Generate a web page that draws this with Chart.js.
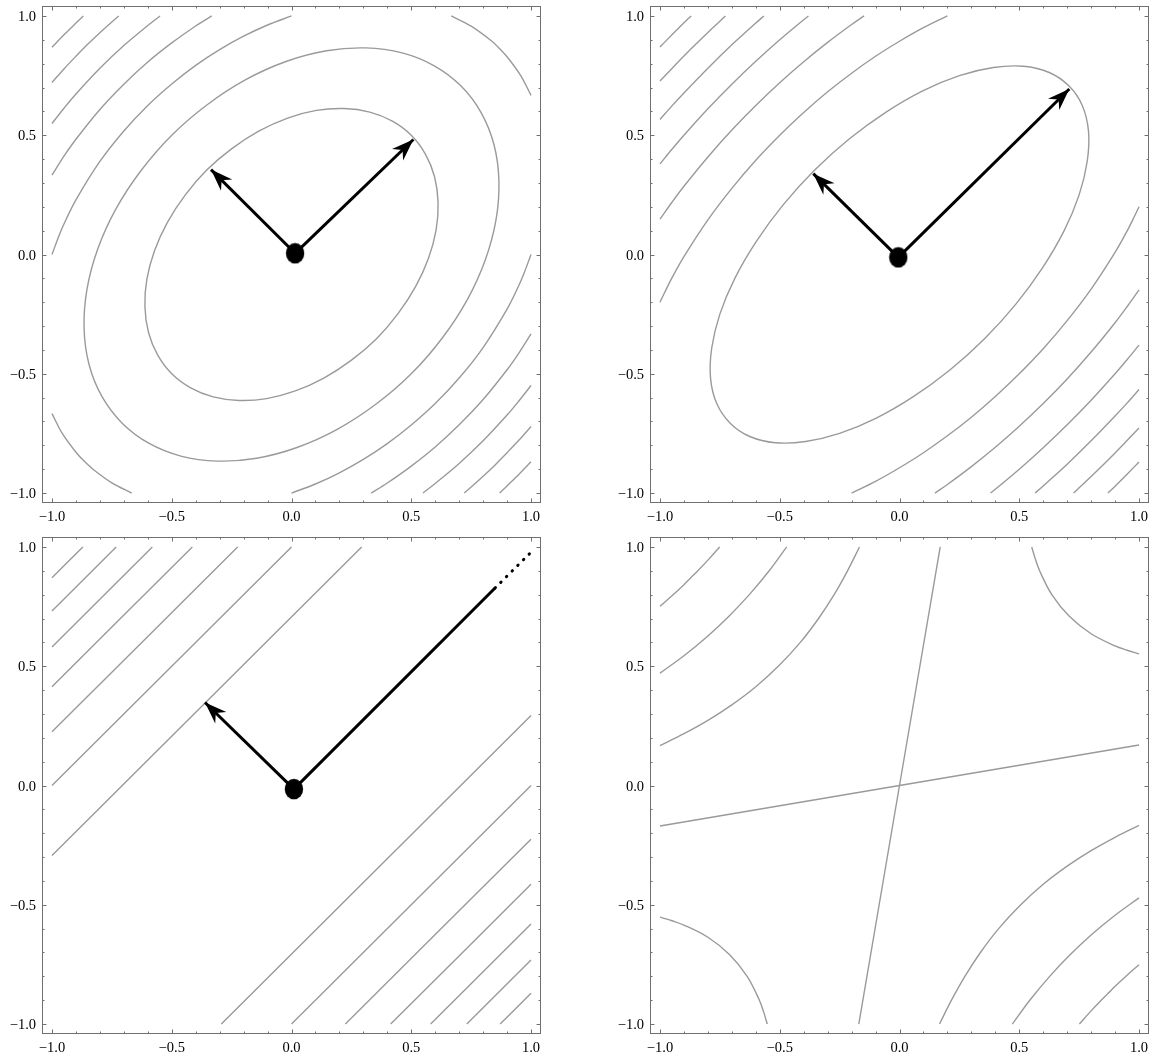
<!DOCTYPE html>
<html>
<head>
<meta charset="utf-8">
<script src="https://cdn.jsdelivr.net/npm/chart.js@4.4.1/dist/chart.umd.min.js"></script>
<style>
  html, body { margin: 0; padding: 0; background: #fff; overflow: hidden; }
  canvas { position: absolute; }
</style>
</head>
<body>
<canvas id="c1" width="543" height="524" style="left:0;top:0"></canvas>
<canvas id="c2" width="543" height="524" style="left:608px;top:0"></canvas>
<canvas id="c3" width="543" height="524" style="left:0;top:531px"></canvas>
<canvas id="c4" width="543" height="524" style="left:608px;top:531px"></canvas>
<script>
// ---- axis ticks (same on every panel, all four frame sides) ----
const TICKS_MAJOR = [-1, -0.5, 0, 0.5, 1];
const TICK_LABELS = ['−1.0', '−0.5', '0.0', '0.5', '1.0'];
const TICKS_MINOR = [-0.9, -0.8, -0.7, -0.6, -0.4, -0.3, -0.2, -0.1, 0.1, 0.2, 0.3, 0.4, 0.6, 0.7, 0.8, 0.9];

// ---- panel 1 (top left): two closed ellipses + clipped outer levels ----
const p1Ring1 = [[-0.354,0.354],[-0.444,0.249],[-0.518,0.135],[-0.572,0.016],[-0.604,-0.104],[-0.612,-0.219],[-0.597,-0.327],[-0.559,-0.421],[-0.5,-0.5],[-0.421,-0.559],[-0.327,-0.597],[-0.219,-0.612],[-0.104,-0.604],[0.016,-0.572],[0.135,-0.518],[0.249,-0.444],[0.354,-0.354],[0.444,-0.249],[0.518,-0.135],[0.572,-0.016],[0.604,0.104],[0.612,0.219],[0.597,0.327],[0.559,0.421],[0.5,0.5],[0.421,0.559],[0.327,0.597],[0.219,0.612],[0.104,0.604],[-0.016,0.572],[-0.135,0.518],[-0.249,0.444]];
const p1Ring2 = [[-0.5,0.5],[-0.628,0.352],[-0.733,0.191],[-0.809,0.023],[-0.854,-0.146],[-0.866,-0.31],[-0.845,-0.462],[-0.791,-0.596],[-0.707,-0.707],[-0.596,-0.791],[-0.462,-0.845],[-0.31,-0.866],[-0.146,-0.854],[0.023,-0.809],[0.191,-0.733],[0.352,-0.628],[0.5,-0.5],[0.628,-0.352],[0.733,-0.191],[0.809,-0.023],[0.854,0.146],[0.866,0.31],[0.845,0.462],[0.791,0.596],[0.707,0.707],[0.596,0.791],[0.462,0.845],[0.31,0.866],[0.146,0.854],[-0.023,0.809],[-0.191,0.733],[-0.352,0.628]];
const p1TR = [[0.667,1],[0.75,0.957],[0.829,0.9],[0.866,0.866],[0.9,0.829],[0.957,0.75],[1,0.667]];
const p1BL = [[-0.667,-1],[-0.75,-0.957],[-0.829,-0.9],[-0.866,-0.866],[-0.9,-0.829],[-0.957,-0.75],[-1,-0.667]];
const p1TL3 = [[-1,0],[-0.97,0.081],[-0.95,0.128],[-0.9,0.229],[-0.8,0.39],[-0.7,0.518],[-0.6,0.625],[-0.5,0.715],[-0.4,0.793],[-0.3,0.859],[-0.2,0.915],[-0.1,0.962],[0,1]];
const p1TL4 = [[-1,0.333],[-0.95,0.412],[-0.9,0.483],[-0.8,0.608],[-0.7,0.714],[-0.6,0.807],[-0.5,0.887],[-0.4,0.958],[-0.333,1]];
const p1TL5 = [[-1,0.549],[-0.95,0.613],[-0.9,0.673],[-0.8,0.781],[-0.7,0.876],[-0.6,0.96],[-0.549,1]];
const p1TL6 = [[-1,0.721],[-0.95,0.778],[-0.9,0.831],[-0.85,0.882],[-0.8,0.93],[-0.75,0.975],[-0.721,1]];
const p1TL7 = [[-1,0.869],[-0.95,0.921],[-0.9,0.97],[-0.869,1]];
const p1BR3 = [[1,0],[0.97,-0.081],[0.95,-0.128],[0.9,-0.229],[0.8,-0.39],[0.7,-0.518],[0.6,-0.625],[0.5,-0.715],[0.4,-0.793],[0.3,-0.859],[0.2,-0.915],[0.1,-0.962],[0,-1]];
const p1BR4 = [[1,-0.333],[0.95,-0.412],[0.9,-0.483],[0.8,-0.608],[0.7,-0.714],[0.6,-0.807],[0.5,-0.887],[0.4,-0.958],[0.333,-1]];
const p1BR5 = [[1,-0.549],[0.95,-0.613],[0.9,-0.673],[0.8,-0.781],[0.7,-0.876],[0.6,-0.96],[0.549,-1]];
const p1BR6 = [[1,-0.721],[0.95,-0.778],[0.9,-0.831],[0.85,-0.882],[0.8,-0.93],[0.75,-0.975],[0.721,-1]];
const p1BR7 = [[1,-0.869],[0.95,-0.921],[0.9,-0.97],[0.869,-1]];
const p1Origin = [0.015, 0.005];
const p1ArrowTips = [[0.509, 0.482], [-0.336, 0.356]];

// ---- panel 2 (top right): one long ellipse + clipped levels ----
const p2Ring1 = [[-0.354,0.354],[-0.485,0.209],[-0.597,0.056],[-0.687,-0.099],[-0.75,-0.25],[-0.784,-0.392],[-0.789,-0.518],[-0.763,-0.625],[-0.707,-0.707],[-0.625,-0.763],[-0.518,-0.789],[-0.392,-0.784],[-0.25,-0.75],[-0.099,-0.687],[0.056,-0.597],[0.209,-0.485],[0.354,-0.354],[0.485,-0.209],[0.597,-0.056],[0.687,0.099],[0.75,0.25],[0.784,0.392],[0.789,0.518],[0.763,0.625],[0.707,0.707],[0.625,0.763],[0.518,0.789],[0.392,0.784],[0.25,0.75],[0.099,0.687],[-0.056,0.597],[-0.209,0.485]];
const p2TL2 = [[-1,-0.2],[-0.98,-0.158],[-0.95,-0.098],[-0.9,-0.009],[-0.8,0.145],[-0.7,0.277],[-0.6,0.395],[-0.5,0.5],[-0.4,0.595],[-0.3,0.682],[-0.2,0.76],[-0.1,0.831],[0,0.894],[0.1,0.951],[0.2,1]];
const p2TL3 = [[-1,0.148],[-0.95,0.219],[-0.9,0.286],[-0.8,0.409],[-0.7,0.522],[-0.6,0.625],[-0.5,0.72],[-0.4,0.808],[-0.3,0.889],[-0.2,0.964],[-0.148,1]];
const p2TL4 = [[-1,0.38],[-0.95,0.441],[-0.9,0.5],[-0.8,0.611],[-0.7,0.714],[-0.6,0.81],[-0.5,0.9],[-0.4,0.984],[-0.38,1]];
const p2TL5 = [[-1,0.566],[-0.95,0.623],[-0.9,0.677],[-0.8,0.781],[-0.7,0.879],[-0.6,0.97],[-0.566,1]];
const p2TL6 = [[-1,0.727],[-0.95,0.78],[-0.9,0.832],[-0.85,0.882],[-0.8,0.931],[-0.75,0.978],[-0.727,1]];
const p2TL7 = [[-1,0.87],[-0.95,0.921],[-0.9,0.971],[-0.87,1]];
const p2BR2 = [[1,0.2],[0.98,0.158],[0.95,0.098],[0.9,0.009],[0.8,-0.145],[0.7,-0.277],[0.6,-0.395],[0.5,-0.5],[0.4,-0.595],[0.3,-0.682],[0.2,-0.76],[0.1,-0.831],[0,-0.894],[-0.1,-0.951],[-0.2,-1]];
const p2BR3 = [[1,-0.148],[0.95,-0.219],[0.9,-0.286],[0.8,-0.409],[0.7,-0.522],[0.6,-0.625],[0.5,-0.72],[0.4,-0.808],[0.3,-0.889],[0.2,-0.964],[0.148,-1]];
const p2BR4 = [[1,-0.38],[0.95,-0.441],[0.9,-0.5],[0.8,-0.611],[0.7,-0.714],[0.6,-0.81],[0.5,-0.9],[0.4,-0.984],[0.38,-1]];
const p2BR5 = [[1,-0.566],[0.95,-0.623],[0.9,-0.677],[0.8,-0.781],[0.7,-0.879],[0.6,-0.97],[0.566,-1]];
const p2BR6 = [[1,-0.727],[0.95,-0.78],[0.9,-0.832],[0.85,-0.882],[0.8,-0.931],[0.75,-0.978],[0.727,-1]];
const p2BR7 = [[1,-0.87],[0.95,-0.921],[0.9,-0.971],[0.87,-1]];
const p2Origin = [-0.005, -0.012];
const p2ArrowTips = [[0.709, 0.694], [-0.36, 0.339]];

// ---- panel 3 (bottom left): parallel straight levels ----
const p3TL = [
  [[-1,-0.293],[0.293,1]], [[-1,0],[0,1]], [[-1,0.225],[-0.225,1]], [[-1,0.414],[-0.414,1]],
  [[-1,0.581],[-0.581,1]], [[-1,0.732],[-0.732,1]], [[-1,0.871],[-0.871,1]]
];
const p3BR = [
  [[-0.293,-1],[1,0.293]], [[0,-1],[1,0]], [[0.225,-1],[1,-0.225]], [[0.414,-1],[1,-0.414]],
  [[0.581,-1],[1,-0.581]], [[0.732,-1],[1,-0.732]], [[0.871,-1],[1,-0.871]]
];
const p3Origin = [0.01, -0.015];
const p3ArrowTips = [[-0.361, 0.348]];
const p3LongEnd = [0.85, 0.828];
const p3DottedEnd = [1.015, 0.993];

// ---- panel 4 (bottom right): saddle ----
const p4Cross = [[[-1,-0.17],[1,0.17]], [[-0.17,-1],[0.17,1]]];
const p4TL3 = [[-1,0.167],[-0.9,0.217],[-0.8,0.273],[-0.7,0.338],[-0.6,0.414],[-0.503,0.503],[-0.414,0.6],[-0.338,0.7],[-0.273,0.8],[-0.217,0.9],[-0.167,1]];
const p4TL2 = [[-1,0.471],[-0.9,0.544],[-0.8,0.627],[-0.711,0.711],[-0.627,0.8],[-0.544,0.9],[-0.471,1]];
const p4TL1 = [[-1,0.751],[-0.95,0.795],[-0.9,0.842],[-0.871,0.871],[-0.842,0.9],[-0.795,0.95],[-0.751,1]];
const p4BR3 = [[1,-0.167],[0.9,-0.217],[0.8,-0.273],[0.7,-0.338],[0.6,-0.414],[0.503,-0.503],[0.414,-0.6],[0.338,-0.7],[0.273,-0.8],[0.217,-0.9],[0.167,-1]];
const p4BR2 = [[1,-0.471],[0.9,-0.544],[0.8,-0.627],[0.711,-0.711],[0.627,-0.8],[0.544,-0.9],[0.471,-1]];
const p4BR1 = [[1,-0.751],[0.95,-0.795],[0.9,-0.842],[0.871,-0.871],[0.842,-0.9],[0.795,-0.95],[0.751,-1]];
const p4TR = [[0.552,1],[0.567,0.95],[0.585,0.9],[0.636,0.8],[0.709,0.709],[0.8,0.636],[0.9,0.585],[0.95,0.567],[1,0.552]];
const p4BL = [[-0.552,-1],[-0.567,-0.95],[-0.585,-0.9],[-0.636,-0.8],[-0.709,-0.709],[-0.8,-0.636],[-0.9,-0.585],[-0.95,-0.567],[-1,-0.552]];

const RANGE = 1.0417;
const CONTOUR = '#9a9a9a';
const FRAME = '#707070';
const FONT = '14.5px "Liberation Serif", "Times New Roman", serif';

const toXY = pts => pts.map(([x, y]) => ({ x, y }));

function curve(points) {
  return {
    data: toXY(points), showLine: true, borderColor: CONTOUR, borderWidth: 1.4,
    pointRadius: 0, tension: 0.35, fill: false, order: 3
  };
}

// closed contour: wrap one point at each end and hide those two segments so the
// spline gets proper neighbours all the way round
function ring(points) {
  const n = points.length;
  const wrapped = [points[n - 1], ...points, points[0], points[1]];
  const last = wrapped.length - 2;
  const ds = curve(wrapped);
  ds.segment = {
    borderColor: c => (c.p0DataIndex === 0 || c.p0DataIndex === last) ? 'rgba(0,0,0,0)' : CONTOUR
  };
  return ds;
}

function arrow(from, to) {
  return {
    data: toXY([from, to]), showLine: true, borderColor: '#000', borderWidth: 3,
    pointRadius: 0, tension: 0, order: 2, arrowHead: true
  };
}

function dotImage() {
  const c = document.createElement('canvas');
  c.width = 20; c.height = 22;
  const g = c.getContext('2d');
  g.fillStyle = '#000';
  g.beginPath();
  g.ellipse(10, 11, 9.2, 10.3, 0, 0, Math.PI * 2);
  g.fill();
  return c;
}
const DOT = dotImage();

function dot(p) {
  return { data: toXY([p]), pointStyle: DOT, pointRadius: 10, showLine: false, order: 1 };
}

const framePlugin = {
  id: 'frameTicks',
  afterDraw(chart) {
    const { ctx, chartArea: a, scales: { x, y } } = chart;
    ctx.save();
    ctx.strokeStyle = FRAME;
    ctx.lineWidth = 1;
    ctx.strokeRect(a.left + 0.5, a.top + 0.5, a.right - a.left - 1, a.bottom - a.top - 1);

    const tick = (v, len) => {
      const px = Math.round(x.getPixelForValue(v)) + 0.5;
      const py = Math.round(y.getPixelForValue(v)) + 0.5;
      ctx.beginPath();
      ctx.moveTo(px, a.bottom); ctx.lineTo(px, a.bottom - len);
      ctx.moveTo(px, a.top); ctx.lineTo(px, a.top + len);
      ctx.moveTo(a.left, py); ctx.lineTo(a.left + len, py);
      ctx.moveTo(a.right, py); ctx.lineTo(a.right - len, py);
      ctx.stroke();
    };
    TICKS_MAJOR.forEach(v => tick(v, 4.5));
    TICKS_MINOR.forEach(v => tick(v, 2.5));

    ctx.fillStyle = '#000';
    ctx.font = FONT;
    ctx.textBaseline = 'alphabetic';
    TICKS_MAJOR.forEach((v, i) => {
      ctx.textAlign = 'center';
      ctx.fillText(TICK_LABELS[i], x.getPixelForValue(v), a.bottom + 17.5);
      ctx.textAlign = 'right';
      ctx.fillText(TICK_LABELS[i], a.left - 6, y.getPixelForValue(v) + 5);
    });
    ctx.restore();
  }
};

const arrowPlugin = {
  id: 'arrowHeads',
  afterDatasetsDraw(chart) {
    const ctx = chart.ctx;
    chart.data.datasets.forEach((ds, i) => {
      if (!ds.arrowHead) return;
      const pts = chart.getDatasetMeta(i).data;
      const a = pts[0], b = pts[pts.length - 1];
      const ang = Math.atan2(b.y - a.y, b.x - a.x);
      ctx.save();
      ctx.translate(b.x, b.y);
      ctx.rotate(ang);
      ctx.beginPath();
      ctx.moveTo(0, 0);
      ctx.lineTo(-22, -8);
      ctx.lineTo(-15, 0);
      ctx.lineTo(-22, 8);
      ctx.closePath();
      ctx.fillStyle = '#000';
      ctx.fill();
      ctx.restore();
    });
  }
};

function makeChart(id, datasets) {
  return new Chart(document.getElementById(id), {
    type: 'scatter',
    data: { datasets },
    options: {
      responsive: false,
      animation: false,
      events: [],
      layout: { autoPadding: false, padding: { left: 42, top: 6, right: 2, bottom: 21 } },
      plugins: { legend: { display: false }, tooltip: { enabled: false } },
      scales: {
        x: { type: 'linear', min: -RANGE, max: RANGE, display: false },
        y: { type: 'linear', min: -RANGE, max: RANGE, display: false }
      }
    },
    plugins: [framePlugin, arrowPlugin]
  });
}

makeChart('c1', [
  dot(p1Origin),
  ...p1ArrowTips.map(t => arrow(p1Origin, t)),
  ring(p1Ring1), ring(p1Ring2),
  curve(p1TR), curve(p1BL),
  ...[p1TL3, p1TL4, p1TL5, p1TL6, p1TL7, p1BR3, p1BR4, p1BR5, p1BR6, p1BR7].map(curve)
]);

makeChart('c2', [
  dot(p2Origin),
  ...p2ArrowTips.map(t => arrow(p2Origin, t)),
  ring(p2Ring1),
  ...[p2TL2, p2TL3, p2TL4, p2TL5, p2TL6, p2TL7, p2BR2, p2BR3, p2BR4, p2BR5, p2BR6, p2BR7].map(curve)
]);

makeChart('c3', [
  dot(p3Origin),
  ...p3ArrowTips.map(t => arrow(p3Origin, t)),
  { data: toXY([p3Origin, p3LongEnd]), showLine: true, borderColor: '#000', borderWidth: 3, pointRadius: 0, order: 2 },
  { data: toXY([p3LongEnd, p3DottedEnd]), showLine: true, borderColor: '#000', borderWidth: 3,
    borderDash: [0.5, 7.5], borderCapStyle: 'round', pointRadius: 0, order: 2 },
  ...p3TL.map(curve), ...p3BR.map(curve)
]);

makeChart('c4', [
  ...p4Cross.map(curve),
  ...[p4TL3, p4TL2, p4TL1, p4BR3, p4BR2, p4BR1, p4TR, p4BL].map(curve)
]);
</script>
</body>
</html>
